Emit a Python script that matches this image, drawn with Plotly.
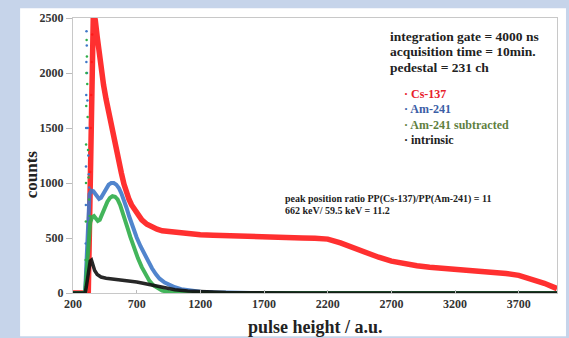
import plotly.graph_objects as go

# ---------------- data ----------------
# Cs-137 leading edge (sparse points) and main body
cs_edge_x = [322, 327, 331, 335, 339, 343, 347, 351, 355]
cs_edge_y = [0, 300, 700, 1100, 1500, 1800, 2100, 2350, 2550]
cs_x = [200, 320, 360, 375, 390, 405, 420, 440, 460, 480, 500, 520, 540, 560, 580,
        600, 620, 640, 660, 680, 700, 740, 780, 820, 860, 900, 1000, 1100, 1200,
        1300, 1400, 1500, 1600, 1700, 1800, 1900, 2000, 2100, 2200, 2300, 2400,
        2500, 2600, 2700, 2800, 2900, 3000, 3100, 3200, 3300, 3400, 3500, 3600,
        3700, 3800, 3900, 4000]
cs_y = [0, 0, 2560, 2480, 2330, 2170, 2030, 1890, 1760, 1640, 1530, 1420, 1310, 1200,
        1090, 990, 910, 850, 800, 760, 725, 665, 625, 600, 580, 565, 550, 540, 530,
        525, 520, 515, 510, 505, 500, 500, 500, 498, 490, 455, 410, 365, 325, 290,
        265, 248, 235, 226, 218, 210, 200, 190, 178, 160, 130, 88, 40]

# Am-241 leading edge and main body
am_edge_x = [296, 298, 300, 301, 302, 303, 304, 305, 306, 308, 310, 313, 316, 320, 324, 328]
am_edge_y = [0, 150, 450, 800, 1150, 1500, 1800, 2100, 2380, 2250, 2000, 1750, 1500, 1250, 1080, 960]
am_x = [200, 295, 330, 345, 360, 375, 390, 405, 420, 440, 460, 480, 500, 520, 540,
        560, 580, 600, 620, 640, 660, 680, 700, 730, 760, 790, 820, 850, 880, 920,
        960, 1000, 1050, 1100, 1150, 1200, 1300, 1400, 1500, 1600, 4000]
am_y = [0, 0, 900, 930, 925, 900, 870, 855, 865, 900, 945, 985, 1000, 1000, 985,
        955, 905, 845, 775, 700, 630, 565, 505, 425, 355, 285, 225, 172, 130, 95,
        70, 52, 35, 25, 17, 12, 6, 3, 1, 0, 0]

# Am-241 subtracted leading edge and main body
sub_edge_x = [297, 299, 301, 302, 303, 304, 305, 307, 309, 312, 315, 318, 322, 326, 330]
sub_edge_y = [0, 300, 650, 1000, 1350, 1700, 2000, 2300, 2150, 1900, 1600, 1300, 1050, 850, 700]
sub_x = [200, 295, 335, 350, 365, 380, 395, 410, 430, 450, 470, 490, 510, 530, 550,
         570, 590, 610, 630, 650, 670, 690, 710, 740, 770, 800, 830, 860, 900, 950,
         1000, 1100, 4000]
sub_y = [0, 0, 640, 690, 700, 680, 655, 665, 720, 780, 830, 865, 880, 875, 850,
         800, 735, 660, 585, 510, 440, 375, 315, 235, 165, 110, 70, 45, 22, 9,
         3, 0, 0]

# intrinsic
int_x = [200, 295, 305, 315, 325, 335, 345, 355, 370, 390, 420, 460, 500, 550, 600,
         650, 700, 750, 800, 850, 900, 950, 1000, 1100, 1200, 1300, 1400, 1500,
         1700, 2000, 4000]
int_y = [0, 0, 60, 150, 230, 290, 300, 260, 205, 168, 145, 135, 130, 125, 118,
         110, 100, 88, 75, 62, 50, 40, 30, 18, 11, 7, 4, 2, 1, 0, 0]

series_names = ["Cs-137", "Am-241", "Am-241 subtracted", "intrinsic"]
line_colors = ["#ff1a1a", "#3f78c8", "#2fae4a", "#111111"]
legend_text_colors = ["#e8202a", "#3b5ea6", "#5f7f3f", "#222222"]

x_ticks = [200, 700, 1200, 1700, 2200, 2700, 3200, 3700]
y_ticks = [0, 500, 1000, 1500, 2000, 2500]

info_lines = ["integration gate = 4000 ns", "acquisition time = 10min.", "pedestal = 231 ch"]
ratio_lines = ["peak position ratio PP(Cs-137)/PP(Am-241) = 11", "662 keV/ 59.5 keV = 11.2"]

# ---------------- figure ----------------
SERIF = "Liberation Serif, Times New Roman, serif"
fig = go.Figure()

bodies = [(cs_x, cs_y, 5.5), (am_x, am_y, 4), (sub_x, sub_y, 4), (int_x, int_y, 3.5)]
edges = [(cs_edge_x, cs_edge_y), (am_edge_x, am_edge_y), (sub_edge_x, sub_edge_y), None]

for i, (bx, by, w) in enumerate(bodies):
    fig.add_trace(go.Scatter(x=bx, y=by, mode="lines", name=series_names[i],
                             showlegend=False,
                             line=dict(color=line_colors[i], width=w), opacity=0.9,
                             hoverinfo="skip"))
    if edges[i] is not None:
        ex, ey = edges[i]
        fig.add_trace(go.Scatter(x=ex, y=ey, mode="markers", showlegend=False,
                                 marker=dict(color=line_colors[i], size=2.5),
                                 hoverinfo="skip"))

PX_L, PX_T, PW, PH = 73, 13, 485, 280


def px(xp):
    return (xp - PX_L) / PW


def py(yp):
    return (PX_T + PH - yp) / PH


fig.update_layout(
    width=569, height=338,
    margin=dict(l=73, r=11, t=13, b=45),
    paper_bgcolor="#c6d4ea",
    plot_bgcolor="white",
    font=dict(family=SERIF, color="#222"),
    showlegend=False,
    xaxis=dict(range=[200, 4000], tickvals=x_ticks, ticktext=[str(v) for v in x_ticks],
               showgrid=False, zeroline=False, showline=True, linecolor="#c8c8c8",
               mirror=True, ticks="inside", ticklen=3, tickcolor="#bbbbbb",
               tickfont=dict(family=SERIF, size=12, color="#333", weight="bold")),
    yaxis=dict(range=[0, 2500], tickvals=y_ticks, ticktext=[str(v) for v in y_ticks],
               showgrid=False, zeroline=False, showline=True, linecolor="#c8c8c8",
               mirror=True, ticks="outside", ticklen=6, tickcolor="#bbbbbb",
               tickfont=dict(family=SERIF, size=12, color="#333", weight="bold")),
)

# white panel behind the chart
fig.add_shape(type="rect", xref="paper", yref="paper", layer="below",
              x0=px(20), x1=px(567), y0=py(337), y1=py(3),
              fillcolor="white", line=dict(width=0))

# axis titles
fig.add_annotation(text="<b>counts</b>", xref="paper", yref="paper",
                   x=px(31), y=py(172), textangle=-90, xanchor="center", yanchor="middle",
                   showarrow=False, font=dict(family=SERIF, size=17, color="#222"))
fig.add_annotation(text="<b>pulse height / a.u.</b>", xref="paper", yref="paper",
                   x=px(316), y=py(328), xanchor="center", yanchor="middle",
                   showarrow=False, font=dict(family=SERIF, size=18, color="#222"))

# info text
for k, t in enumerate(info_lines):
    fig.add_annotation(text=f"<b>{t}</b>", xref="paper", yref="paper",
                       x=px(389), y=py(31.5 + 15.7 * k),
                       xanchor="left", yanchor="middle", showarrow=False,
                       font=dict(family=SERIF, size=13.5, color="#222"))

# legend (coloured text with a small dot)
for k, nm in enumerate(series_names):
    fig.add_annotation(text=f"<b>· {nm}</b>", xref="paper", yref="paper",
                       x=px(403), y=py(90 + 15.9 * k),
                       xanchor="left", yanchor="middle", showarrow=False,
                       font=dict(family=SERIF, size=12, color=legend_text_colors[k]))

for k, t in enumerate(ratio_lines):
    fig.add_annotation(text=f"<b>{t}</b>", xref="paper", yref="paper",
                       x=px(283), y=py(197.5 + 11.5 * k),
                       xanchor="left", yanchor="middle", showarrow=False,
                       font=dict(family=SERIF, size=10, color="#222"))

fig.write_html("out.html")
